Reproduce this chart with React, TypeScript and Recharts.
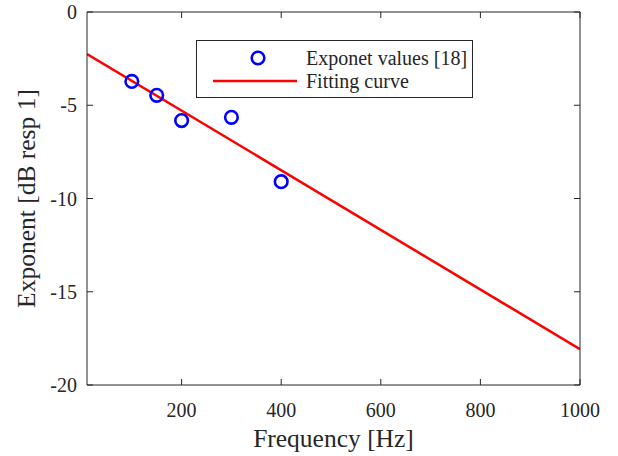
import React from 'react'
import { ComposedChart, Scatter, Line, XAxis, YAxis, Legend } from 'recharts'

const measured = [
  { x: 100, y: -3.72 },
  { x: 150, y: -4.47 },
  { x: 200, y: -5.82 },
  { x: 300, y: -5.65 },
  { x: 400, y: -9.1 },
]

// fitted straight line, evaluated at the axis ends
const fitted = [
  { x: 10, y: -2.25 },
  { x: 1000, y: -18.08 },
]

const xTicks = [200, 400, 600, 800, 1000]
const yTicks = [-20, -15, -10, -5, 0]

const FONT = 'Liberation Serif, DejaVu Serif, Times New Roman, serif'
const INK = '#262626'
const txt = { fontFamily: FONT }

const BottomTick = ({ x, y, payload }: any) => (
  <g>
    <line x1={x} y1={y} x2={x} y2={y - 6} stroke={INK} />
    <text x={x} y={y + 32} textAnchor="middle" fill={INK} style={txt} fontSize={20}>
      {payload.value}
    </text>
  </g>
)

const LeftTick = ({ x, y, payload }: any) => (
  <g>
    <line x1={x} y1={y} x2={x + 6} y2={y} stroke={INK} />
    <text x={x - 10} y={y + 7} textAnchor="end" fill={INK} style={txt} fontSize={20}>
      {payload.value}
    </text>
  </g>
)

const TopTick = ({ x, y }: any) => <line x1={x} y1={y} x2={x} y2={y + 6} stroke={INK} />
const RightTick = ({ x, y }: any) => <line x1={x} y1={y} x2={x - 6} y2={y} stroke={INK} />

const Ring = ({ cx, cy }: any) => (
  <circle cx={cx} cy={cy} r={6.3} fill="none" stroke="#0000ff" strokeWidth={2.6} />
)

const LegendBox = () => (
  <svg width={277} height={58} style={{ display: 'block' }}>
    <rect x={0.5} y={0.5} width={276} height={57} fill="#fff" stroke={INK} />
    <circle cx={62} cy={18} r={6.3} fill="none" stroke="#0000ff" strokeWidth={2.6} />
    <line x1={17} y1={41} x2={101} y2={41} stroke="#ff0000" strokeWidth={2.5} />
    <text x={110} y={25} fill={INK} style={txt} fontSize={20}>Exponet values [18]</text>
    <text x={110} y={48} fill={INK} style={txt} fontSize={20}>Fitting curve</text>
  </svg>
)

export default function App() {
  return (
    <div style={{ position: 'absolute', left: 0, top: 0, background: '#fff', fontFamily: FONT }}>
      <ComposedChart width={618} height={456} margin={{ top: 11, right: 37, bottom: 0, left: 0 }}>
        <XAxis
          xAxisId={0}
          type="number"
          dataKey="x"
          domain={[10, 1000]}
          ticks={xTicks}
          height={71}
          tickSize={0}
          tickMargin={0}
          tickLine={false}
          axisLine={{ stroke: INK }}
          tick={<BottomTick />}
          allowDataOverflow
          label={{ value: 'Frequency [Hz]', position: 'insideBottom', offset: 9, fill: INK, fontSize: 25.5, style: txt }}
        />
        <XAxis
          xAxisId="top"
          orientation="top"
          type="number"
          dataKey="x"
          domain={[10, 1000]}
          ticks={xTicks}
          height={1}
          tickSize={0}
          tickMargin={0}
          tickLine={false}
          axisLine={{ stroke: INK }}
          tick={<TopTick />}
          allowDataOverflow
        />
        <YAxis
          yAxisId={0}
          type="number"
          dataKey="y"
          domain={[-20, 0]}
          ticks={yTicks}
          width={87}
          tickSize={0}
          tickMargin={0}
          tickLine={false}
          axisLine={{ stroke: INK }}
          tick={<LeftTick />}
          allowDataOverflow
          label={{ value: 'Exponent [dB resp 1]', angle: -90, position: 'insideLeft', offset: 26, fill: INK, fontSize: 25.5, style: { ...txt, textAnchor: 'middle' } }}
        />
        <YAxis
          yAxisId="right"
          orientation="right"
          type="number"
          dataKey="y"
          domain={[-20, 0]}
          ticks={yTicks}
          width={1}
          tickSize={0}
          tickMargin={0}
          tickLine={false}
          axisLine={{ stroke: INK }}
          tick={<RightTick />}
          allowDataOverflow
        />
        {/* invisible twin so the top and right frame axes get drawn */}
        <Line
          xAxisId="top"
          yAxisId="right"
          data={fitted}
          dataKey="y"
          stroke="none"
          dot={false}
          legendType="none"
          isAnimationActive={false}
        />
        <Line
          xAxisId={0}
          yAxisId={0}
          data={fitted}
          dataKey="y"
          stroke="#ff0000"
          strokeWidth={2.5}
          dot={false}
          isAnimationActive={false}
        />
        <Scatter
          xAxisId={0}
          yAxisId={0}
          data={measured}
          dataKey="y"
          shape={<Ring />}
          isAnimationActive={false}
        />
        <Legend
          layout="horizontal"
          verticalAlign="middle"
          content={<LegendBox />}
          wrapperStyle={{ position: 'absolute', left: 196, top: 40, width: 277, height: 58 }}
        />
      </ComposedChart>
    </div>
  )
}
